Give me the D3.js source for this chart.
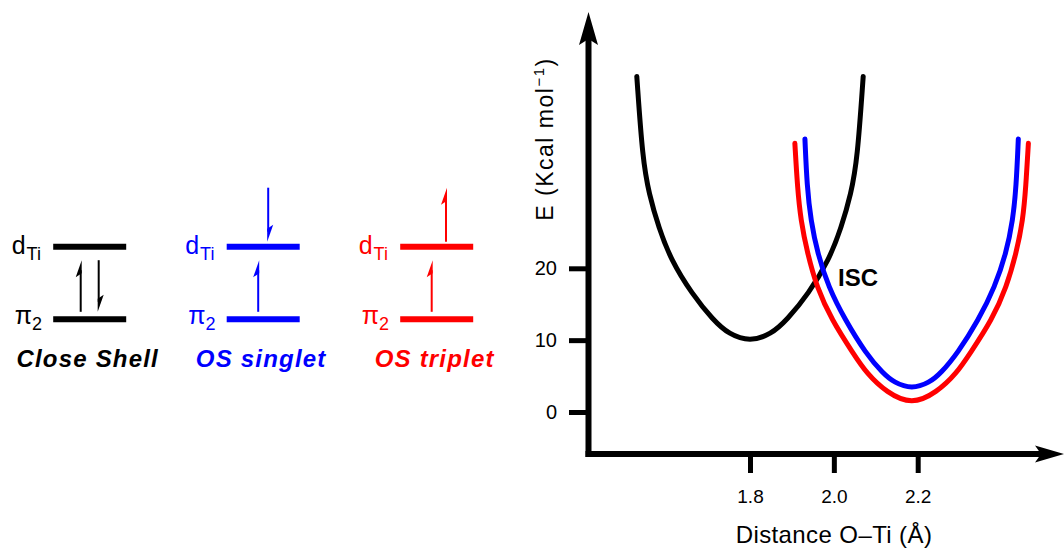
<!DOCTYPE html>
<html>
<head>
<meta charset="utf-8">
<script src="https://cdn.jsdelivr.net/npm/d3@7"></script>
<style>
  body { margin: 0; background: #fff; }
  svg { display: block; font-family: "Liberation Sans", Arial, sans-serif; }
</style>
</head>
<body>
<script>
// orbital diagrams (left)
const configs = ["Close Shell", "OS singlet", "OS triplet"];
const configColors = ["#000000", "#0000ff", "#ff0000"];
const levels = ["dTi", "pi2"];
const electrons = [
    [{level: "pi2", spin: "up"}, {level: "pi2", spin: "down"}],
    [{level: "pi2", spin: "up"}, {level: "dTi", spin: "down"}],
    [{level: "pi2", spin: "up"}, {level: "dTi", spin: "up"}]
];

// potential energy curves (right)
const xTicks = [1.8, 2.0, 2.2];
const yTicks = [0, 10, 20];
const closeShellDist = [1.530, 1.544, 1.559, 1.582, 1.612, 1.661, 1.712, 1.750, 1.800,
                        1.850, 1.888, 1.940, 1.988, 2.018, 2.041, 2.056, 2.070];
const closeShellE    = [46.7, 35.1, 30.4, 25.7, 21.1, 16.5, 12.8, 10.8, 9.8,
                        10.8, 12.8, 16.5, 21.1, 25.7, 30.4, 35.1, 46.7];
const singletDist = [1.931, 1.936, 1.945, 1.961, 1.987, 2.027, 2.076, 2.117, 2.144, 2.186,
                     2.228, 2.255, 2.295, 2.345, 2.384, 2.411, 2.427, 2.435, 2.440];
const singletE    = [38.0, 31.4, 26.7, 22.1, 17.4, 12.8, 8.17, 5.39, 4.08, 3.2,
                     4.08, 5.39, 8.17, 12.8, 17.4, 22.1, 26.7, 31.4, 38.0];
const tripletDist = [1.907, 1.913, 1.921, 1.937, 1.959, 1.995, 2.046, 2.078, 2.126, 2.186,
                     2.245, 2.293, 2.325, 2.377, 2.412, 2.435, 2.451, 2.458, 2.464];
const tripletE    = [37.4, 31.4, 26.7, 22.1, 17.4, 12.8, 8.17, 5.39, 2.70, 1.0,
                     2.70, 5.39, 8.17, 12.8, 17.4, 22.1, 26.7, 31.4, 37.4];
const curveColors = ["#000000", "#ff0000", "#0000ff"];

var svg = d3.select("body").append("svg")
    .attr("width", 1064)
    .attr("height", 549);

// ---- left panel ----
var cx = d3.scalePoint().domain(configs).range([89.7, 436.7]);
var ly = d3.scalePoint().domain(levels).range([246.7, 319.3]);

configs.forEach(function (c, i) {
    var g = svg.append("g").attr("fill", configColors[i]).attr("stroke", configColors[i]);
    var x0 = cx(c);

    g.selectAll(".level")
        .data(levels)
        .enter()
        .append("line")
        .attr("x1", x0 - 36.5)
        .attr("x2", x0 + 36.5)
        .attr("y1", d => ly(d))
        .attr("y2", d => ly(d))
        .attr("stroke-width", 6);

    // dTi label
    var t1 = g.append("text").attr("stroke", "none")
        .attr("x", x0 - 78).attr("y", ly("dTi") + 7.5)
        .attr("font-size", 25);
    t1.append("tspan").text("d");
    t1.append("tspan").attr("dy", 6).attr("dx", 1).attr("font-size", 18).text("Ti");

    // pi2 label
    var t2 = g.append("text").attr("stroke", "none")
        .attr("x", x0 - 75).attr("y", ly("pi2") + 4.5)
        .attr("font-size", 25);
    t2.append("tspan").text("π");
    t2.append("tspan").attr("dy", 6).attr("font-size", 18).text("2");

    // electrons
    var el = electrons[i];
    var same = el[0].level == el[1].level;
    el.forEach(function (e, k) {
        var ax;
        if (same) ax = x0 + (k == 0 ? -9 : 9);
        else ax = x0 + (e.level == "pi2" ? -5 : (e.spin == "up" ? 9.3 : 5));
        var top, bot;
        if (e.level == "pi2") { top = ly("dTi") + 13.5; bot = ly("pi2") - 7.5; }
        else { top = ly("dTi") - 59; bot = ly("dTi") - 5; }
        var tail = e.spin == "up" ? bot : top;
        var tip = e.spin == "up" ? top : bot;
        var s = e.spin == "up" ? 1 : -1;
        g.append("line")
            .attr("x1", ax).attr("x2", ax)
            .attr("y1", tail).attr("y2", tip + s * 10)
            .attr("stroke-width", 2);
        g.append("path")
            .attr("stroke", "none")
            .attr("d", "M" + (ax + 1 * s) + "," + tip +
                "L" + (ax - 5 * s) + "," + (tip + 17 * s) +
                "L" + (ax + 1 * s) + "," + (tip + 13 * s) + "Z");
    });

    g.append("text")
        .attr("stroke", "none")
        .attr("x", x0 - 2)
        .attr("y", 367)
        .attr("text-anchor", "middle")
        .attr("font-size", 24)
        .attr("font-weight", "bold")
        .attr("font-style", "italic")
        .attr("letter-spacing", 1.2)
        .text(c);
});

// ---- right panel ----
var x = d3.scaleLinear().domain([1.8, 2.2]).range([750, 917.7]);
var y = d3.scaleLinear().domain([0, 20]).range([412, 268.3]);

var yAxis = svg.append("g")
    .attr("transform", "translate(586,0)")
    .call(d3.axisLeft(y).tickValues(yTicks).tickSize(17).tickPadding(12));
var xAxis = svg.append("g")
    .attr("transform", "translate(0,454)")
    .call(d3.axisBottom(x).tickValues(xTicks).tickSize(19).tickPadding(17).tickFormat(d3.format(".1f")));
[yAxis, xAxis].forEach(function (a) {
    a.select(".domain").remove();
    a.selectAll(".tick line").attr("stroke", "#000").attr("stroke-width", 5);
    a.selectAll(".tick text").attr("fill", "#000").attr("font-size", 19)
        .attr("font-family", "Liberation Sans, Arial, sans-serif");
});
yAxis.selectAll(".tick text").attr("font-size", 20);

// axis lines with arrows
svg.append("line").attr("x1", 588.5).attr("x2", 588.5).attr("y1", 457).attr("y2", 36)
    .attr("stroke", "#000").attr("stroke-width", 6);
svg.append("path").attr("d", "M588.5,12L598,45L588.5,39L579,45Z").attr("fill", "#000");
svg.append("line").attr("x1", 585.5).attr("x2", 1042).attr("y1", 454).attr("y2", 454)
    .attr("stroke", "#000").attr("stroke-width", 6);
svg.append("path").attr("d", "M1064,454L1035,445.5L1041,454L1035,462.5Z").attr("fill", "#000");

// curves
var line = d3.line()
    .x(d => x(d[0]))
    .y(d => y(d[1]))
    .curve(d3.curveBasis);
var series = [
    d3.zip(closeShellDist, closeShellE),
    d3.zip(tripletDist, tripletE),
    d3.zip(singletDist, singletE)
];
svg.selectAll(".pes")
    .data(series)
    .enter()
    .append("path")
    .attr("class", "pes")
    .attr("d", line)
    .attr("fill", "none")
    .attr("stroke", (d, i) => curveColors[i])
    .attr("stroke-width", 5)
    .attr("stroke-linecap", "round");

svg.append("text")
    .attr("x", 838).attr("y", 286)
    .attr("font-size", 24).attr("font-weight", "bold")
    .text("ISC");

// axis titles
svg.append("text")
    .attr("x", 834).attr("y", 543)
    .attr("text-anchor", "middle")
    .attr("font-size", 24)
    .attr("letter-spacing", 0.4)
    .text("Distance O–Ti (Å)");

var yt = svg.append("text")
    .attr("transform", "translate(553,139) rotate(-90)")
    .attr("text-anchor", "middle")
    .attr("font-size", 23)
    .attr("letter-spacing", 1.5);
yt.append("tspan").text("E  (Kcal mol");
yt.append("tspan").attr("dy", -9).attr("font-size", 15).text("−1");
yt.append("tspan").attr("dy", 9).text(")");
</script>
</body>
</html>
